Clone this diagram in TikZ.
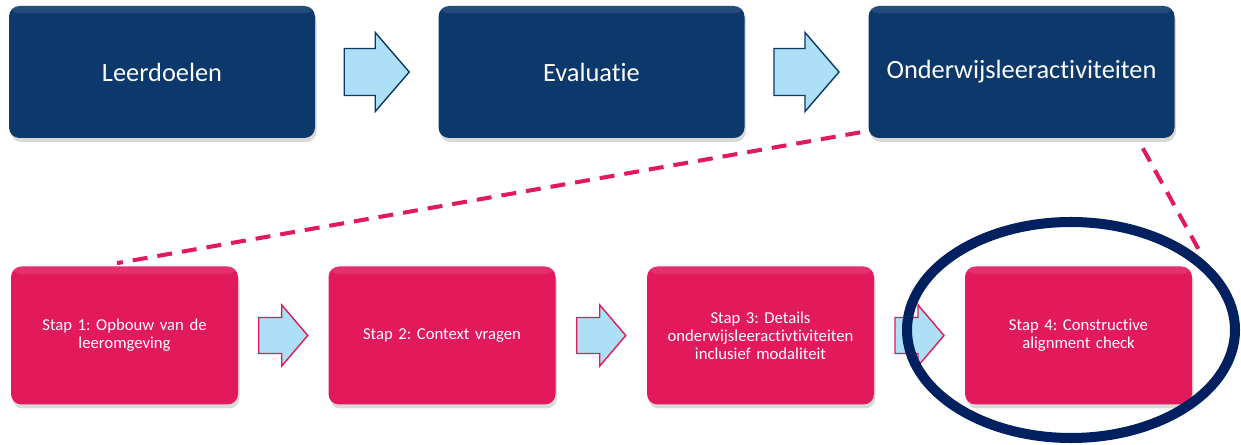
\documentclass[tikz,border=0pt]{standalone}
\usepackage{fontspec}
\setmainfont{Carlito}[Ligatures=NoCommon]
\frenchspacing
\usetikzlibrary{positioning,calc,shadows,shapes.geometric}
\definecolor{alignNavy}{RGB}{12,56,107}
\definecolor{alignPink}{RGB}{226,26,92}
\definecolor{alignSky}{RGB}{173,223,247}
\definecolor{alignRing}{RGB}{0,32,96}

\begin{document}
\begin{tikzpicture}[
    phase/.style={rectangle, rounded corners=6pt, fill=alignNavy, text=white,
                  minimum width=61.2mm, minimum height=26.4mm, font=\fontsize{15}{18}\selectfont,
                  drop shadow={opacity=0.3, shadow xshift=0.3mm, shadow yshift=-0.8mm},
                  path picture={\fill[white, opacity=0.1] (path picture bounding box.north west)
                                rectangle ([yshift=-1.5mm]path picture bounding box.north east);}},
    stepbox/.style={rectangle, rounded corners=6pt, fill=alignPink, text=white,
                  minimum width=45.4mm, minimum height=27.6mm, text width=42mm, align=center,
                  font=\fontsize{9.5}{10.2}\selectfont,
                  drop shadow={opacity=0.3, shadow xshift=0.3mm, shadow yshift=-0.8mm},
                  path picture={\fill[white, opacity=0.1] (path picture bounding box.north west)
                                rectangle ([yshift=-1.5mm]path picture bounding box.north east);}},
    link/.style={alignPink, line width=2.3pt, dash pattern=on 8.5pt off 5.7pt},
    toparrow/.pic={\filldraw[fill=alignSky, draw=alignNavy, line width=0.8pt]
        (-0.65,0.47) -- (-0.03,0.47) -- (-0.03,0.79) -- (0.65,0) -- (-0.03,-0.79)
        -- (-0.03,-0.47) -- (-0.65,-0.47) -- cycle;},
    steparrow/.pic={\filldraw[fill=alignSky, draw=alignPink, line width=0.8pt]
        (-0.49,0.36) -- (-0.03,0.36) -- (-0.03,0.61) -- (0.49,0) -- (-0.03,-0.61)
        -- (-0.03,-0.36) -- (-0.49,-0.36) -- cycle;}
  ]
  \useasboundingbox (0,0) rectangle (24.82,-8.9);

  % upper row
  \node[phase] (doelen) at ( 3.24,-1.44) {Leerdoelen};
  \node[phase] (eval)   at (11.83,-1.44) {Evaluatie};
  \node[phase] (activ)  at (20.43,-1.44) {Onderwijsleeractiviteiten};

  \pic at ($(doelen.east)!0.5!(eval.west)$) {toparrow};
  \pic at ($(eval.east)!0.5!(activ.west)$) {toparrow};

  % lower row
  \node[stepbox] (stap1) at ( 2.49,-6.71) {Stap 1: Opbouw van de\\leeromgeving};
  \node[stepbox] (stap2) at ( 8.84,-6.71) {Stap 2: Context vragen};
  \node[stepbox] (stap3) at (15.21,-6.71) {Stap 3: Details\\onderwijsleeractivtiviteiten\\inclusief modaliteit};
  \node[stepbox] (stap4) at (21.57,-6.71) {Stap 4: Constructive\\alignment check};

  \pic at ($(stap1.east)!0.5!(stap2.west)$) {steparrow};
  \pic at ($(stap2.east)!0.5!(stap3.west)$) {steparrow};
  \pic at ($(stap3.east)!0.5!(stap4.west)$) {steparrow};

  % zoom lines
  \draw[link] ([xshift=-1.6mm, yshift=1.2mm]activ.south west) -- ([xshift=-1.5mm, yshift=0.6mm]stap1.north);
  \draw[link] ([xshift=-6.4mm, yshift=-2mm]activ.south east) -- ([xshift=2mm, yshift=2mm]stap4.north east);

  % highlight
  \node[ellipse, draw=alignRing, line width=5.7pt, minimum width=65.6mm, minimum height=43.2mm]
    (check) at (21.42,-6.60) {};
\end{tikzpicture}
\end{document}
